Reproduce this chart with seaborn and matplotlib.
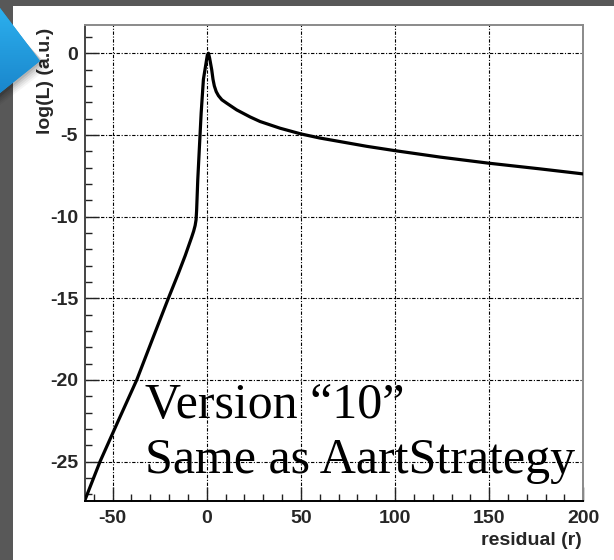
import numpy as np
import pandas as pd
import matplotlib
matplotlib.use("Agg")
import matplotlib.pyplot as plt
from matplotlib.patches import Polygon, Rectangle
from matplotlib.ticker import MultipleLocator
import seaborn as sns

# log-likelihood curve as a function of the residual
residual = [-64.7, -56.7, -47.0, -37.2, -28.5, -20.4, -15.0, -11.5, -8.0,
            -7.0, -6.2, -5.7, -5.4, -4.8, -3.9, -3.0, -1.8, -0.4, 0.3, 0.9,
            1.5, 2.6, 3.3, 4.0, 5.0, 6.2, 8.0, 10.6, 15.9, 23.0, 28.3, 38.9,
            50.0, 60.0, 70.8, 85.0, 99.7, 124.0, 149.6, 177.0, 200.0]
log_l = [-27.35, -25.0, -22.5, -20.0, -17.4, -15.0, -13.45, -12.4, -11.25,
         -10.9, -10.55, -10.2, -9.6, -7.75, -5.7, -3.67, -1.6, -0.6, -0.1, 0.0,
         -0.3, -1.0, -1.6, -2.0, -2.35, -2.6, -2.85, -3.06, -3.47, -3.9,
         -4.18, -4.59, -4.94, -5.19, -5.41, -5.70, -5.96, -6.36, -6.73,
         -7.08, -7.39]

x_ticks = [-50, 0, 50, 100, 150, 200]
y_ticks = [0, -5, -10, -15, -20, -25]
x_label = "residual (r)"
y_label = "log(L) (a.u.)"
note_lines = ["Version \u201c10\u201d", "Same as AartStrategy"]

df = pd.DataFrame({"r": residual, "logL": log_l})

sns.set_theme(style="white")
plt.rcParams["font.family"] = ["Liberation Sans", "DejaVu Sans"]
plt.rcParams["axes.unicode_minus"] = False

W, H = 614, 560
fig = plt.figure(figsize=(W / 100, H / 100), dpi=100)
fig.patch.set_facecolor("#585858")

# white slide panel
fig.patches.append(Rectangle((13 / W, 0), 1 - 13 / W, 1 - 6 / H,
                             transform=fig.transFigure, facecolor="white",
                             edgecolor="none", zorder=-5))

ax = fig.add_axes([85 / W, 1 - 500.7 / H, (583.3 - 85) / W, (500.7 - 25) / H],
                  zorder=2)
ax.set_facecolor("white")

sns.lineplot(data=df, x="r", y="logL", ax=ax, color="black", lw=2.3,
             sort=False, estimator=None, zorder=3)
ax.lines[0].set_solid_joinstyle("round")

ax.set_xlim(-64.7, 200)
ax.set_ylim(-27.4, 1.73)
ax.set_xticks(x_ticks)
ax.set_yticks(y_ticks)
ax.xaxis.set_minor_locator(MultipleLocator(10))
ax.yaxis.set_minor_locator(MultipleLocator(1))

grid_ls = (0, (3, 1.5, 1, 1.5))
ax.grid(True, which="major", color="black", lw=0.8, ls=grid_ls, zorder=1)

ax.tick_params(which="major", direction="in", length=10, width=1.0,
               color="#222222", labelsize=14, pad=5)
ax.tick_params(which="minor", direction="in", length=5, width=1.0,
               color="#222222")
ax.tick_params(axis="x", which="major", pad=7)
ax.tick_params(which="both", top=False, right=False, bottom=True, left=True)
for lab in ax.get_xticklabels() + ax.get_yticklabels():
    lab.set_fontweight("bold")

ax.spines["left"].set_color("#444444")
ax.spines["bottom"].set_color("black")
ax.spines["top"].set_color("#8a8a8a")
ax.spines["right"].set_color("#8a8a8a")
for s in ax.spines.values():
    s.set_linewidth(1.4)
    s.set_visible(True)

ax.set_xlabel("")
ax.set_ylabel("")
fig.text(582 / W, 1 - 545 / H, x_label, ha="right", va="baseline",
         fontsize=14, fontweight="bold", zorder=5)
fig.text(46 / W, 1 - 28 / H, y_label, ha="center", va="top", rotation=90,
         fontsize=14, fontweight="bold", zorder=5)

# overlay note in serif type
for txt, base in zip(note_lines, [418, 473]):
    fig.text(145 / W, 1 - base / H, txt, ha="left", va="baseline",
             fontsize=36, family=["Liberation Serif", "DejaVu Serif"],
             color="black", zorder=5)

# blue arrow marker with soft shadow
def fpt(x, y):
    return (x / W, 1 - y / H)

for k, a in enumerate([0.10, 0.08, 0.06, 0.05, 0.04]):
    d = 2 + 2 * k
    fig.patches.append(Polygon([fpt(0, 8 + d), fpt(40 + d, 61 + d * 0.6),
                                fpt(0, 95 + d)], closed=True,
                               transform=fig.transFigure, facecolor="black",
                               alpha=a, edgecolor="none", zorder=6))
arrow = Polygon([fpt(0, 8), fpt(40, 61), fpt(0, 93)], closed=True,
                transform=fig.transFigure, facecolor="#1e9de0",
                edgecolor="none", zorder=7)
fig.patches.append(arrow)
grad = np.linspace(0, 1, 256).reshape(-1, 1)
gax = fig.add_axes([0, 1 - 93 / H, 40 / W, 85 / H], zorder=8)
gax.imshow(grad, aspect="auto", cmap=matplotlib.colors.LinearSegmentedColormap.from_list(
    "bl", ["#2cb0ee", "#1a86cc"]), extent=[0, 40, 93, 8])
gax.set_xlim(0, 40)
gax.set_ylim(93, 8)
gax.axis("off")
clip = Polygon([(0, 8), (40, 61), (0, 93)], closed=True, transform=gax.transData)
gax.images[0].set_clip_path(clip)

fig.savefig("out.png", dpi=100, facecolor=fig.get_facecolor())
